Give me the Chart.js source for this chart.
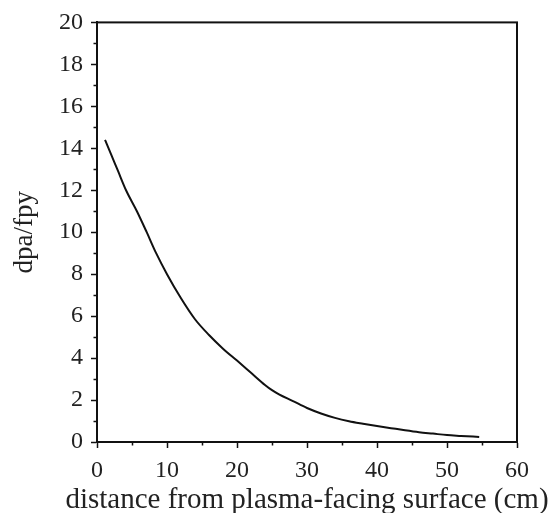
<!DOCTYPE html>
<html><head><meta charset="utf-8">
<script src="https://cdn.jsdelivr.net/npm/chart.js@4.4.0/dist/chart.umd.min.js"></script>
<style>html,body{margin:0;padding:0;background:#fff;}#wrap{width:550px;height:513px;}</style>
</head><body><div id="wrap"><canvas id="c" width="550" height="513"></canvas></div>
<script>
const distance = [1.15, 2, 3, 4.15, 5.7, 7.1, 8.45, 10, 12, 14, 16, 18, 20, 22, 24, 25, 26, 28, 30, 32, 34, 36, 38, 40, 42, 44, 46, 48, 50, 52, 54.6];
const dpa = [14.4, 13.72, 12.92, 12.0, 11.0, 10.0, 9.0, 8.0, 6.85, 5.85, 5.1, 4.45, 3.88, 3.3, 2.72, 2.47, 2.27, 1.95, 1.62, 1.36, 1.15, 0.99, 0.87, 0.76, 0.66, 0.56, 0.47, 0.40, 0.33, 0.29, 0.24];
const xTickValues = [0, 10, 20, 30, 40, 50, 60];
const yTickValues = [0, 2, 4, 6, 8, 10, 12, 14, 16, 18, 20];
const xMinorTicks = [5, 15, 25, 35, 45, 55];
const yMinorTicks = [1, 3, 5, 7, 9, 11, 13, 15, 17, 19];
const xTitle = 'distance from plasma-facing surface (cm)';
const yTitle = 'dpa/fpy';

const FONT = '"Liberation Serif", "Times New Roman", serif';
const INK = '#111';
const TEXT = '#222';

const framePlugin = {
  id: 'frame',
  afterDraw(chart) {
    const {ctx, chartArea: a, scales: {x, y}} = chart;
    ctx.save();
    ctx.strokeStyle = INK;
    ctx.lineWidth = 2;
    ctx.strokeRect(a.left, a.top, a.right - a.left, a.bottom - a.top);
    ctx.lineWidth = 1.5;
    ctx.beginPath();
    xMinorTicks.forEach(v => { const px = Math.round(x.getPixelForValue(v)) + 0.5; ctx.moveTo(px, a.bottom); ctx.lineTo(px, a.bottom + 3.5); });
    yMinorTicks.forEach(v => { const py = Math.round(y.getPixelForValue(v)) + 0.5; ctx.moveTo(a.left, py); ctx.lineTo(a.left - 3.5, py); });
    ctx.stroke();
    // x-axis title (drawn here so it is not squeezed to the plot width)
    ctx.fillStyle = TEXT;
    ctx.font = '29px ' + FONT;
    ctx.textAlign = 'center';
    ctx.textBaseline = 'alphabetic';
    ctx.fillText(xTitle, (a.left + a.right) / 2, 508);
    ctx.restore();
  }
};

new Chart(document.getElementById('c'), {
  type: 'line',
  data: {
    datasets: [{
      data: distance.map((d, i) => ({x: d, y: dpa[i]})),
      borderColor: INK,
      borderWidth: 2,
      pointRadius: 0,
      cubicInterpolationMode: 'monotone',
      fill: false
    }]
  },
  options: {
    responsive: false,
    animation: false,
    devicePixelRatio: 1,
    layout: {padding: {left: 0, right: 33, top: 21, bottom: 0}},
    plugins: {legend: {display: false}, tooltip: {enabled: false}},
    scales: {
      x: {
        type: 'linear', min: 0, max: 60,
        afterBuildTicks: s => { s.ticks = xTickValues.map(v => ({value: v})); },
        afterFit: s => { s.height = 71; },
        grid: {drawOnChartArea: false, drawTicks: true, tickLength: 6, tickColor: INK, tickWidth: 1.5},
        border: {display: true, color: INK, width: 2},
        ticks: {color: TEXT, font: {family: FONT, size: 24}, padding: 8, maxRotation: 0},
        title: {display: false}
      },
      y: {
        type: 'linear', min: 0, max: 20,
        afterBuildTicks: s => { s.ticks = yTickValues.map(v => ({value: v})); },
        afterFit: s => { s.width = 97; },
        grid: {drawOnChartArea: false, drawTicks: true, tickLength: 6, tickColor: INK, tickWidth: 1.5},
        border: {display: true, color: INK, width: 2},
        ticks: {color: TEXT, font: {family: FONT, size: 24}, padding: 8},
        title: {display: true, text: yTitle, color: TEXT, font: {family: FONT, size: 27}, padding: {top: 9, bottom: 0}}
      }
    }
  },
  plugins: [framePlugin]
});
</script></body></html>
